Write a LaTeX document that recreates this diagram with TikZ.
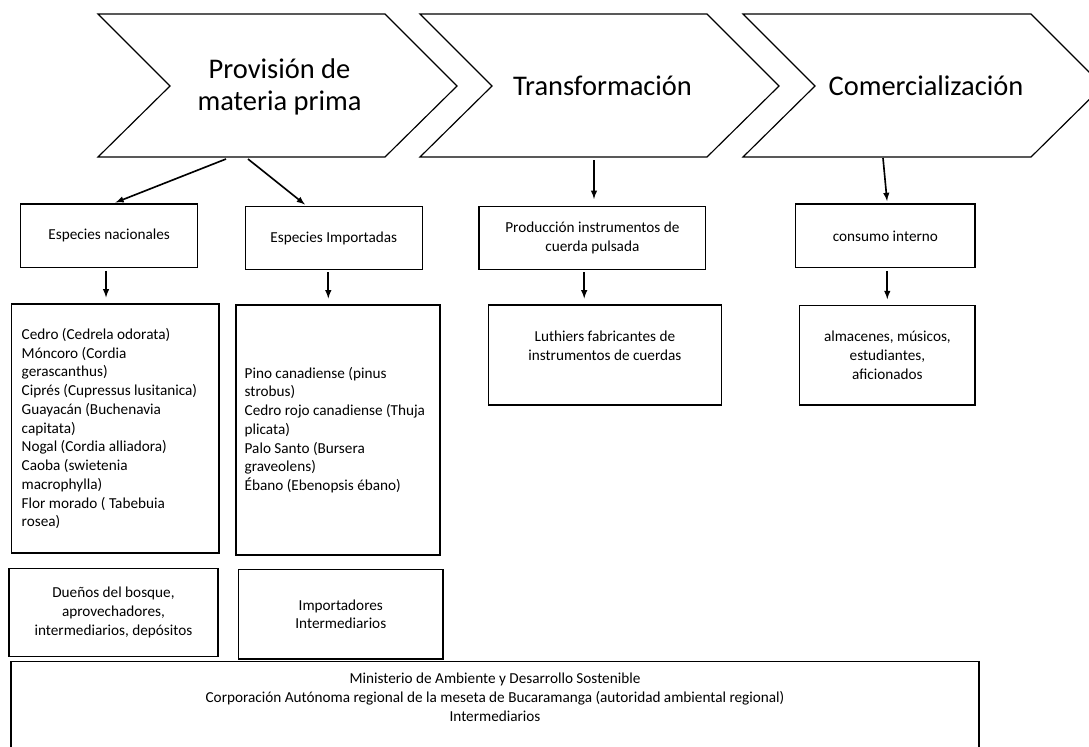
\documentclass[tikz,border=0pt]{standalone}
\usepackage{fontspec}
\setmainfont{Carlito}
\usetikzlibrary{arrows}

\begin{document}
\begin{tikzpicture}[x=0.03cm,y=-0.03cm,
  stage/.style={font=\fontsize{24.3}{27}\selectfont, align=center},
  box/.style={draw, line width=1.2pt, font=\fontsize{13}{16}\selectfont, align=center, inner sep=0pt},
  flow/.style={-latex, line width=1.4pt, shorten >=2pt},
  feed/.style={-latex, line width=1.4pt, shorten <=2pt, shorten >=5pt}]
\useasboundingbox (0,0) rectangle (1089,746);
\clip (0,0) rectangle (1089,746);

\draw[line width=1pt] (98,14) -- (385,14) -- (457,86) -- (385,157) -- (98,157) -- (170,86) -- cycle;
\draw[line width=1pt] (420,14) -- (707,14) -- (779,86) -- (707,157) -- (420,157) -- (492,86) -- cycle;
\draw[line width=1pt] (743,14) -- (1031,14) -- (1103,86) -- (1031,157) -- (743,157) -- (815,86) -- cycle;

\node[stage] (prov) at (279.5,87) {Provisión de\\materia prima};
\node[stage, anchor=base] (transf) at (602.5,95) {Transformación};
\node[stage, anchor=base] (comer) at (926,95) {Comercialización};

\coordinate (prov-l) at (226,159);
\coordinate (prov-r) at (248,159);
\coordinate (transf-s) at (594,160);
\coordinate (comer-s) at (883,158);

\node[box, minimum width=5.31cm, minimum height=1.91cm] (nac) at (109.2,235.9) {Especies nacionales};
\node[box, minimum width=5.31cm, minimum height=1.88cm] (imp) at (333.8,238) {Especies Importadas};
\node[box, minimum width=6.8cm, minimum height=1.88cm] (prod) at (592.4,238) {Producción instrumentos de\\cuerda pulsada};
\node[box, minimum width=5.38cm, minimum height=1.91cm] (cons) at (885.4,235.9) {consumo interno};

\node[box, align=flush left, inner xsep=0.3cm, text width=5.62cm, minimum height=7.47cm] (nacdet) at (115.4,428.5)
  {Cedro (Cedrela odorata)\\Móncoro (Cordia\\gerascanthus)\\Ciprés (Cupressus lusitanica)\\Guayacán (Buchenavia\\capitata)\\Nogal (Cordia alliadora)\\Caoba (swietenia\\macrophylla)\\Flor morado ( Tabebuia\\rosea)};
\node[box, align=flush left, inner xsep=0.26cm, text width=5.6cm, minimum height=7.5cm] (impdet) at (338,430)
  {Pino canadiense (pinus\\strobus)\\Cedro rojo canadiense (Thuja\\plicata)\\Palo Santo (Bursera\\graveolens)\\Ébano (Ebenopsis ébano)};
\node[box, minimum width=7cm, minimum height=3cm] (luth) at (604.9,355) {Luthiers fabricantes de\\instrumentos de cuerdas\\\mbox{}};
\node[box, minimum width=5.26cm, minimum height=2.98cm] (alm) at (887.4,355.4) {almacenes, músicos,\\estudiantes,\\aficionados};

\node[box, minimum width=6.27cm, minimum height=2.65cm] (duen) at (113.5,612.5) {Dueños del bosque,\\aprovechadores,\\intermediarios, depósitos};
\node[box, minimum width=6.14cm, minimum height=2.69cm] (impo) at (340.8,614.2) {Importadores\\Intermediarios};
\node[box, anchor=north, minimum width=29.04cm, inner ysep=0.34cm] (minist) at (495,661)
  {Ministerio de Ambiente y Desarrollo Sostenible\\Corporación Autónoma regional de la meseta de Bucaramanga (autoridad ambiental regional)\\Intermediarios\\[2cm]\mbox{}};

\draw[flow] (prov-l) -- ([xshift=3.5pt]nac.north);
\draw[flow] (prov-r) -- ([xshift=-23.1pt]imp.north);
\draw[flow, shorten >=6pt] (transf-s) -- (transf-s |- prod.north);
\draw[flow] (comer-s) -- ([xshift=1.6pt]cons.north);

\draw[feed] ([xshift=-2.7pt]nac.south) -- ([xshift=-2.7pt]nac.south |- nacdet.north);
\draw[feed] ([xshift=-4.7pt]imp.south) -- ([xshift=-4.7pt]imp.south |- impdet.north);
\draw[feed] ([xshift=-7pt]prod.south) -- ([xshift=-7pt]prod.south |- luth.north);
\draw[feed] ([xshift=1.6pt]cons.south) -- ([xshift=1.6pt]cons.south |- alm.north);

\end{tikzpicture}
\end{document}
